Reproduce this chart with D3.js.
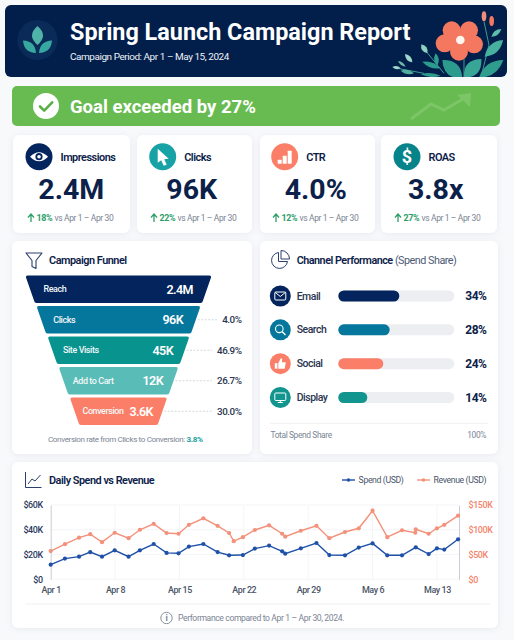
<!DOCTYPE html>
<html>
<head>
<meta charset="utf-8">
<script src="https://cdn.jsdelivr.net/npm/d3@7"></script>
<style>
  html, body { margin: 0; padding: 0; background: #f8f9fb; }
  svg { display: block; font-family: Roboto, sans-serif; }
  .card { fill: #fff; filter: drop-shadow(0 1px 3px rgba(30, 50, 90, 0.08)); }
</style>
</head>
<body>
<svg id="chart" width="514" height="640"></svg>
<script>
const NAVY = '#0b2149';
const GRAY = '#7b8494';

// KPI cards
const kpiNames = ['Impressions', 'Clicks', 'CTR', 'ROAS'];
const kpiValues = ['2.4M', '96K', '4.0%', '3.8x'];
const kpiDeltas = ['18%', '22%', '12%', '27%'];
const kpiColors = ['#03245c', '#17a2a6', '#fb7f68', '#07838a'];

// funnel
const funnelStages = ['Reach', 'Clicks', 'Site Visits', 'Add to Cart', 'Conversion'];
const funnelValues = ['2.4M', '96K', '45K', '12K', '3.6K'];
const funnelRates = [null, '4.0%', '46.9%', '26.7%', '30.0%'];
const funnelColors = ['#03245c', '#06779c', '#08938f', '#5abcb6', '#fb7f68'];

// channels
const channels = ['Email', 'Search', 'Social', 'Display'];
const channelShare = [34, 28, 24, 14];
const channelColors = ['#03245c', '#06779c', '#fb7f68', '#12958f'];

// daily series, days counted from Apr 1
const spendDays = [0, 1.55, 3.08, 4.3, 5.58, 6.96, 8.47, 9.7, 11.2, 12.6, 13.9, 15.03, 16.6, 18.15, 19.4, 20.9, 22.2, 23.75, 25.17, 25.5, 27.2, 28.9, 30.3, 32, 33.5, 35, 36.6, 38.2, 39.7, 41.1, 42, 42.8, 44.3];
const spendK = [11.8, 16.7, 18.3, 22, 18.3, 23.4, 18.3, 23.4, 28.5, 21.3, 21, 26.4, 28.5, 22, 19.4, 19.6, 24.8, 27.2, 22.6, 20.7, 25, 29.3, 19.6, 19.4, 25.6, 29, 19.4, 19.4, 25.8, 20.4, 25, 24, 32.3];
const revenueDays = [0, 1.55, 3.08, 4.3, 5.58, 6.96, 8.47, 9.7, 11.2, 12.6, 13.9, 15.03, 16.6, 18.15, 19.4, 19.9, 20.9, 22.2, 23.75, 25.17, 25.5, 27.2, 28.9, 30.3, 32, 33.5, 35, 36.6, 38.2, 39.65, 39.7, 41.1, 42, 42.8, 44.3];
const revenueK = [57, 71, 84, 91, 75, 94, 83, 100, 112, 93.5, 92, 110, 123, 108, 93.5, 77, 85, 99.5, 109, 92, 86, 98, 108, 83, 95.5, 103, 138.5, 85, 99, 94, 101, 92, 103, 110, 128.5];
const weekDays = [0, 7, 14, 21, 28, 35, 42];
const weekLabels = ['Apr 1', 'Apr 8', 'Apr 15', 'Apr 22', 'Apr 29', 'May 6', 'May 13'];
const spendTicks = [0, 20, 40, 60];
const revenueTicks = [0, 50, 100, 150];

const svg = d3.select('#chart');

function label(g, x, y, str, size, weight, fill, anchor = 'start') {
  return g.append('text')
    .attr('x', x).attr('y', y)
    .attr('font-size', size).attr('font-weight', weight)
    .attr('fill', fill).attr('text-anchor', anchor)
    .text(str);
}

function card(x, y, w, h) {
  svg.append('rect').attr('class', 'card')
    .attr('x', x).attr('y', y).attr('width', w).attr('height', h).attr('rx', 6);
}

// leaf shape between two points, w is the bulge on each side
function leafPath(x0, y0, x1, y1, w) {
  const mx = (x0 + x1) / 2, my = (y0 + y1) / 2;
  const dx = x1 - x0, dy = y1 - y0;
  const len = Math.hypot(dx, dy);
  const nx = -dy / len * w * 2, ny = dx / len * w * 2;
  return `M${x0},${y0}Q${mx + nx},${my + ny} ${x1},${y1}Q${mx - nx},${my - ny} ${x0},${y0}Z`;
}

// ---------- header ----------
svg.append('clipPath').attr('id', 'headClip').append('rect')
  .attr('x', 5).attr('y', 5).attr('width', 502).attr('height', 72).attr('rx', 6);
svg.append('rect').attr('x', 5).attr('y', 5).attr('width', 502).attr('height', 72).attr('rx', 6).attr('fill', '#021f4b');

svg.append('circle').attr('cx', 37.5).attr('cy', 40).attr('r', 20).attr('fill', '#0a2b58');
const logo = svg.append('g').attr('fill', '#36a89f');
logo.append('path').attr('d', leafPath(37.5, 26, 37.5, 45, 5.5)).attr('fill', '#4fb3a7');
logo.append('path').attr('d', leafPath(23, 40.5, 36, 53, 4));
logo.append('path').attr('d', leafPath(52, 40.5, 39, 53, 4));

label(svg, 70, 40, 'Spring Launch Campaign Report', 23.4, 700, '#fff');
label(svg, 70, 60, 'Campaign Period: Apr 1 – May 15, 2024', 9.15, 400, '#eef2f7');

// flower, drawn in the 3x crop space of that corner
const flower = svg.append('g').attr('clip-path', 'url(#headClip)')
  .append('g').attr('transform', 'translate(384,5) scale(0.3333)');
const stemLines = [[240, 160, 240, 225], [300, 50, 315, 120], [315, 120, 290, 220], [115, 125, 180, 205], [40, 190, 120, 205]];
flower.selectAll('.stem').data(stemLines).join('line').attr('class', 'stem')
  .attr('x1', d => d[0]).attr('y1', d => d[1]).attr('x2', d => d[2]).attr('y2', d => d[3])
  .attr('stroke', '#3d9e92').attr('stroke-width', 3);
const leaves = [
  [175, 165, 235, 220, 20, '#2c9a8c'], [240, 218, 292, 162, 20, '#38a596'], [285, 218, 358, 165, 16, '#2f9d8e'],
  [302, 155, 357, 105, 14, '#48b09e'], [322, 95, 352, 72, 7, '#5dbcaa'], [170, 190, 115, 170, 8, '#2c9a8c'],
  [130, 145, 112, 118, 8, '#8fd0c0'], [160, 182, 155, 145, 7, '#2f9d8e'], [85, 172, 63, 147, 7, '#9fd8ca'],
  [65, 185, 42, 168, 4, '#6fb8ab'], [50, 190, 25, 186, 5, '#9fd8ca'], [90, 205, 50, 197, 6, '#4fae9f'], [170, 212, 110, 208, 6, '#2c9a8c']
];
flower.selectAll('.leaf').data(leaves).join('path').attr('class', 'leaf')
  .attr('d', d => leafPath(d[0], d[1], d[2], d[3], d[4])).attr('fill', d => d[5]);
const buds = [[300, 34, '#ef8f7e'], [323, 48, '#f4775f']];
flower.selectAll('.bud').data(buds).join('ellipse').attr('class', 'bud')
  .attr('cx', d => d[0]).attr('cy', d => d[1]).attr('rx', 7).attr('ry', 15).attr('fill', d => d[2]);
const petals = [[203, 76], [255, 76], [270, 118], [225, 140], [182, 115]];
flower.selectAll('.petal').data(petals).join('circle').attr('class', 'petal')
  .attr('cx', d => d[0]).attr('cy', d => d[1]).attr('r', 27).attr('fill', '#f4775f');
flower.append('circle').attr('cx', 228).attr('cy', 105).attr('r', 32).attr('fill', '#f4775f');
flower.append('circle').attr('cx', 229).attr('cy', 105).attr('r', 13).attr('fill', '#fff6ee');

// ---------- goal banner ----------
svg.append('rect').attr('x', 12).attr('y', 86).attr('width', 488).attr('height', 40).attr('rx', 5).attr('fill', '#68bb50');
svg.append('circle').attr('cx', 46).attr('cy', 106).attr('r', 13).attr('fill', '#fff');
svg.append('path').attr('d', 'M40,106.5l4.2,4.2l8,-8.4').attr('fill', 'none').attr('stroke', '#5cae48')
  .attr('stroke-width', 2.6).attr('stroke-linecap', 'round').attr('stroke-linejoin', 'round');
label(svg, 70, 113, 'Goal exceeded by 27%', 18.5, 700, '#fff');
svg.append('path').attr('d', 'M411,119L431,104L444,110L468,96').attr('fill', 'none')
  .attr('stroke', '#7cc667').attr('stroke-width', 3);
svg.append('path').attr('d', 'M457,95L471,93L470,107Z').attr('fill', '#7cc667');

// ---------- KPI cards ----------
const kpiBoxes = [[13, 117], [137, 115], [260, 115], [381, 116]];
const kpiIconX = [39, 162.7, 284.7, 407];
const kpiCenterX = [71.3, 191.7, 315.7, 435.7];
const kpiArrowX = [31, 154, 276, 398];

function kpiIcon(g, i) {
  if (i === 0) { // eye
    g.append('path').attr('d', 'M-9,0Q0,-9 9,0Q0,9 -9,0Z').attr('fill', '#fff');
    g.append('circle').attr('r', 3.6).attr('fill', kpiColors[0]);
    g.append('circle').attr('r', 1.8).attr('fill', '#fff');
  } else if (i === 1) { // cursor
    g.append('path').attr('d', 'M-5,-8L6,2L1.5,2.5L4,8L1,9L-1.5,3.5L-5,6Z').attr('fill', '#fff');
  } else if (i === 2) { // bars
    g.selectAll('rect').data([[-7, 3], [-2, -1], [3, -6]]).join('rect')
      .attr('x', d => d[0]).attr('y', d => d[1]).attr('width', 4).attr('height', d => 7 - d[1]).attr('rx', 0.5).attr('fill', '#fff');
  } else { // dollar
    g.append('text').attr('text-anchor', 'middle').attr('y', 6.5).attr('font-size', 18).attr('font-weight', 700).attr('fill', '#fff').text('$');
  }
}

kpiNames.forEach((name, i) => {
  card(kpiBoxes[i][0], 135, kpiBoxes[i][1], 98);
  const icon = svg.append('g').attr('transform', `translate(${kpiIconX[i]},156.7)`);
  icon.append('circle').attr('r', 13.5).attr('fill', kpiColors[i]);
  kpiIcon(icon, i);
  label(svg, kpiIconX[i] + 21.5, 160.5, name, 10, 600, NAVY);
  label(svg, kpiCenterX[i], 199.3, kpiValues[i], 28.5, 700, NAVY, 'middle');
  svg.append('path')
    .attr('d', `M${kpiArrowX[i]},222V214.5M${kpiArrowX[i] - 3},217.5L${kpiArrowX[i]},214L${kpiArrowX[i] + 3},217.5`)
    .attr('fill', 'none').attr('stroke', '#2e9e6b').attr('stroke-width', 1.3);
  label(svg, kpiArrowX[i] + 5.5, 221, kpiDeltas[i], 8.2, 700, '#2e9e6b');
  label(svg, kpiArrowX[i] + 23.5, 221, 'vs Apr 1 – Apr 30', 7.8, 400, GRAY);
});

// ---------- funnel ----------
card(12, 241, 240, 213);
svg.append('path').attr('d', 'M26,253H42L36,260.5V268.5L32,266.5V260.5Z')
  .attr('fill', 'none').attr('stroke', '#2a3f6b').attr('stroke-width', 1.1).attr('stroke-linejoin', 'round');
label(svg, 49, 264, 'Campaign Funnel', 10, 600, NAVY);

const funnelCx = 118.5;
const stageY = d3.scaleBand().domain(funnelStages).range([275.5, 425]).paddingInner(0.1);
const rank = d3.scaleLinear().domain([0, 4]);
const topHalf = rank.copy().range([92.5, 48]);
const botHalf = rank.copy().range([84, 39.5]);
const labelX = rank.copy().range([43.5, 82.5]);
const valueX = rank.copy().range([193, 153]);
const lineTo = [0, 218, 212, 212, 212];

const stages = svg.append('g').selectAll('g').data(funnelStages).join('g');
stages.append('path')
  .attr('d', (d, i) => {
    const y0 = stageY(d), y1 = y0 + stageY.bandwidth();
    const t = topHalf(i), b = botHalf(i);
    return `M${funnelCx - t + 1.5},${y0}H${funnelCx + t - 1.5}Q${funnelCx + t + 0.5},${y0} ${funnelCx + t},${y0 + 2}L${funnelCx + b + 0.5},${y1 - 2.5}Q${funnelCx + b},${y1} ${funnelCx + b - 2},${y1}H${funnelCx - b + 2}Q${funnelCx - b},${y1} ${funnelCx - b - 0.5},${y1 - 2.5}L${funnelCx - t},${y0 + 2}Q${funnelCx - t - 0.5},${y0} ${funnelCx - t + 1.5},${y0}Z`;
  })
  .attr('fill', (d, i) => funnelColors[i]);
stages.append('text')
  .attr('x', (d, i) => labelX(i)).attr('y', d => stageY(d) + stageY.bandwidth() / 2 + 3)
  .attr('font-size', 8.2).attr('font-weight', 500).attr('fill', '#f2f8fa').text(d => d);
stages.append('text')
  .attr('x', (d, i) => valueX(i)).attr('y', d => stageY(d) + stageY.bandwidth() / 2 + 4.5)
  .attr('text-anchor', 'end').attr('font-size', 11.5).attr('font-weight', 600).attr('fill', '#fff')
  .text((d, i) => funnelValues[i]);
stages.filter((d, i) => funnelRates[i]).append('line')
  .attr('x1', d => funnelCx + (topHalf(funnelStages.indexOf(d)) + botHalf(funnelStages.indexOf(d))) / 2 + 2)
  .attr('x2', d => lineTo[funnelStages.indexOf(d)])
  .attr('y1', d => stageY(d) + stageY.bandwidth() / 2)
  .attr('y2', d => stageY(d) + stageY.bandwidth() / 2)
  .attr('stroke', '#c9ced6').attr('stroke-width', 0.8).attr('stroke-dasharray', '2,1.5');
stages.filter((d, i) => funnelRates[i]).append('text')
  .attr('x', 241.5).attr('y', d => stageY(d) + stageY.bandwidth() / 2 + 3.5)
  .attr('text-anchor', 'end').attr('font-size', 9).attr('font-weight', 500).attr('fill', '#2a3550')
  .text(d => funnelRates[funnelStages.indexOf(d)]);

const funnelNote = svg.append('text').attr('x', 48).attr('y', 441.5).attr('font-size', 7.4).attr('fill', GRAY);
funnelNote.append('tspan').text('Conversion rate from Clicks to Conversion: ');
funnelNote.append('tspan').attr('font-weight', 700).attr('fill', '#16a29c').text('3.8%');

// ---------- channel performance ----------
card(260, 241, 238, 213);
const pie = svg.append('g').attr('transform', 'translate(280,260)').attr('fill', 'none').attr('stroke', '#2a3f6b').attr('stroke-width', 1);
pie.append('path').attr('d', 'M-1.5,-7.5A8,8 0 1 0 7.5,1.5H-1.5Z');
pie.append('path').attr('d', 'M1,-9.5A8.5,8.5 0 0 1 9.5,-1H1Z');
const chTitle = svg.append('text').attr('x', 296.7).attr('y', 264).attr('font-size', 9.9).attr('fill', '#4d5a75');
chTitle.append('tspan').attr('font-weight', 600).attr('fill', NAVY).text('Channel Performance');
chTitle.append('tspan').text(' (Spend Share)');

const chY = d3.scalePoint().domain(channels).range([296, 397.5]);
const chW = d3.scaleLinear().domain([0, 68]).range([6.6, 115.4]);
const chIcons = [
  g => {
    g.append('rect').attr('x', -5.5).attr('y', -4).attr('width', 11).attr('height', 8).attr('rx', 1).attr('fill', 'none').attr('stroke', '#fff');
    g.append('path').attr('d', 'M-5,-3.5L0,0.5L5,-3.5').attr('fill', 'none').attr('stroke', '#fff');
  },
  g => {
    g.append('circle').attr('cx', -1).attr('cy', -1).attr('r', 3.8).attr('fill', 'none').attr('stroke', '#fff').attr('stroke-width', 1.1);
    g.append('path').attr('d', 'M2,2L5.2,5.2').attr('stroke', '#fff').attr('stroke-width', 1.3);
  },
  g => {
    g.append('rect').attr('x', -5.5).attr('y', -0.5).attr('width', 2.6).attr('height', 5.5).attr('fill', '#fff');
    g.append('path').attr('d', 'M-2,-0.5L0.5,-5.5L2,-5L1.6,-1.5H5.5L4.4,5H-2Z').attr('fill', '#fff');
  },
  g => {
    g.append('rect').attr('x', -5.5).attr('y', -4.5).attr('width', 11).attr('height', 7.5).attr('rx', 1).attr('fill', 'none').attr('stroke', '#fff');
    g.append('path').attr('d', 'M-2.5,5H2.5M0,3V5').attr('stroke', '#fff');
  }
];

channels.forEach((name, i) => {
  const y = chY(name);
  const icon = svg.append('g').attr('transform', `translate(280.3,${y})`);
  icon.append('circle').attr('r', 10.5).attr('fill', channelColors[i]);
  chIcons[i](icon);
  label(svg, 296.7, y + 3.5, name, 9.6, 500, '#2a3550');
  svg.append('rect').attr('x', 338.3).attr('y', y - 5.5).attr('width', 116).attr('height', 11).attr('rx', 5.5).attr('fill', '#eceef1');
  svg.append('rect').attr('x', 338.3).attr('y', y - 5.5).attr('width', chW(channelShare[i])).attr('height', 11).attr('rx', 5.5).attr('fill', channelColors[i]);
  label(svg, 486.3, y + 4.2, channelShare[i] + '%', 11, 700, NAVY, 'end');
});
svg.append('line').attr('x1', 270).attr('x2', 488).attr('y1', 423.3).attr('y2', 423.3).attr('stroke', '#eef0f3');
label(svg, 270.5, 438, 'Total Spend Share', 7.7, 400, GRAY);
label(svg, 486, 438, '100%', 7.7, 400, GRAY, 'end');

// ---------- daily spend vs revenue ----------
card(12, 462, 486, 166);
svg.append('path').attr('d', 'M25.5,472V487.5H41.5').attr('fill', 'none').attr('stroke', '#2a3f6b').attr('stroke-width', 1);
svg.append('path').attr('d', 'M28,484L32,479L35,481L40.5,475').attr('fill', 'none').attr('stroke', '#2a3f6b').attr('stroke-width', 1);
label(svg, 49, 484, 'Daily Spend vs Revenue', 10, 600, NAVY);

const SPEND = '#1f51a8', REVENUE = '#f4917a';
const x = d3.scaleLinear().domain([0, 44.4]).range([50.7, 459]);
const ySpend = d3.scaleLinear().domain([0, 60]).range([579.3, 505]);
const yRevenue = d3.scaleLinear().domain([0, 150]).range([579.3, 505]);

svg.append('g').selectAll('line').data(weekDays.slice(1)).join('line')
  .attr('x1', d => x(d)).attr('x2', d => x(d)).attr('y1', 505).attr('y2', 579.3).attr('stroke', '#f4f5f7');
svg.append('g').selectAll('line').data(spendTicks).join('line')
  .attr('x1', 50.7).attr('x2', 459).attr('y1', d => ySpend(d)).attr('y2', d => ySpend(d)).attr('stroke', '#f4f5f7');

function styleAxis(g, color, weight) {
  g.selectAll('.tick line').remove();
  g.select('.domain').attr('stroke', '#c9ced6');
  g.selectAll('text').attr('font-family', 'Roboto, sans-serif').attr('font-size', 8.2).attr('font-weight', weight).attr('fill', color);
}

svg.append('g').attr('transform', 'translate(50.7,0)')
  .call(d3.axisLeft(ySpend).tickValues(spendTicks).tickSize(0).tickPadding(8).tickFormat(d => `$${d}${d ? 'K' : ''}`))
  .call(styleAxis, '#2a3a5e', 500);
svg.append('g').attr('transform', 'translate(459,0)')
  .call(d3.axisRight(yRevenue).tickValues(revenueTicks).tickSize(0).tickPadding(9.5).tickFormat(d => `$${d}${d ? 'K' : ''}`))
  .call(styleAxis, '#f4846c', 500);
svg.append('g').attr('transform', 'translate(0,587)')
  .call(d3.axisBottom(x).tickValues(weekDays).tickSize(0).tickPadding(0).tickFormat((d, i) => weekLabels[i]))
  .call(styleAxis, '#4a5568', 500)
  .call(g => g.select('.domain').remove());

function drawSeries(days, values, y, color) {
  const pts = days.map((d, i) => [x(d), y(values[i])]);
  svg.append('path').attr('d', d3.line()(pts)).attr('fill', 'none').attr('stroke', color).attr('stroke-width', 1.4);
  svg.append('g').selectAll('circle').data(pts).join('circle')
    .attr('cx', d => d[0]).attr('cy', d => d[1]).attr('r', 2.1).attr('fill', color);
}
drawSeries(revenueDays, revenueK, yRevenue, REVENUE);
drawSeries(spendDays, spendK, ySpend, SPEND);

[[342, 'Spend (USD)', SPEND], [417, 'Revenue (USD)', REVENUE]].forEach(([lx, text, color]) => {
  svg.append('line').attr('x1', lx).attr('x2', lx + 13).attr('y1', 480).attr('y2', 480).attr('stroke', color).attr('stroke-width', 1.4);
  svg.append('circle').attr('cx', lx + 6.5).attr('cy', 480).attr('r', 1.8).attr('fill', color);
  label(svg, lx + 16.6, 483, text, 8, 400, '#4a5568');
});

svg.append('line').attr('x1', 25).attr('x2', 490).attr('y1', 604).attr('y2', 604).attr('stroke', '#eef0f3');
svg.append('circle').attr('cx', 166.5).attr('cy', 618).attr('r', 5.7).attr('fill', 'none').attr('stroke', '#7b8494').attr('stroke-width', 0.9);
label(svg, 166.5, 621, 'i', 8, 700, '#7b8494', 'middle');
label(svg, 178, 621, 'Performance compared to Apr 1 – Apr 30, 2024.', 7.9, 400, GRAY);

// small text in the reference is taller and tighter than plain Roboto at the same width
svg.selectAll('text').each(function () {
  const t = d3.select(this);
  const size = +t.attr('font-size');
  if (size <= 11.5) {
    t.attr('font-size', size * 1.09).style('letter-spacing', '-0.045em');
  }
});
</script>
</body>
</html>
